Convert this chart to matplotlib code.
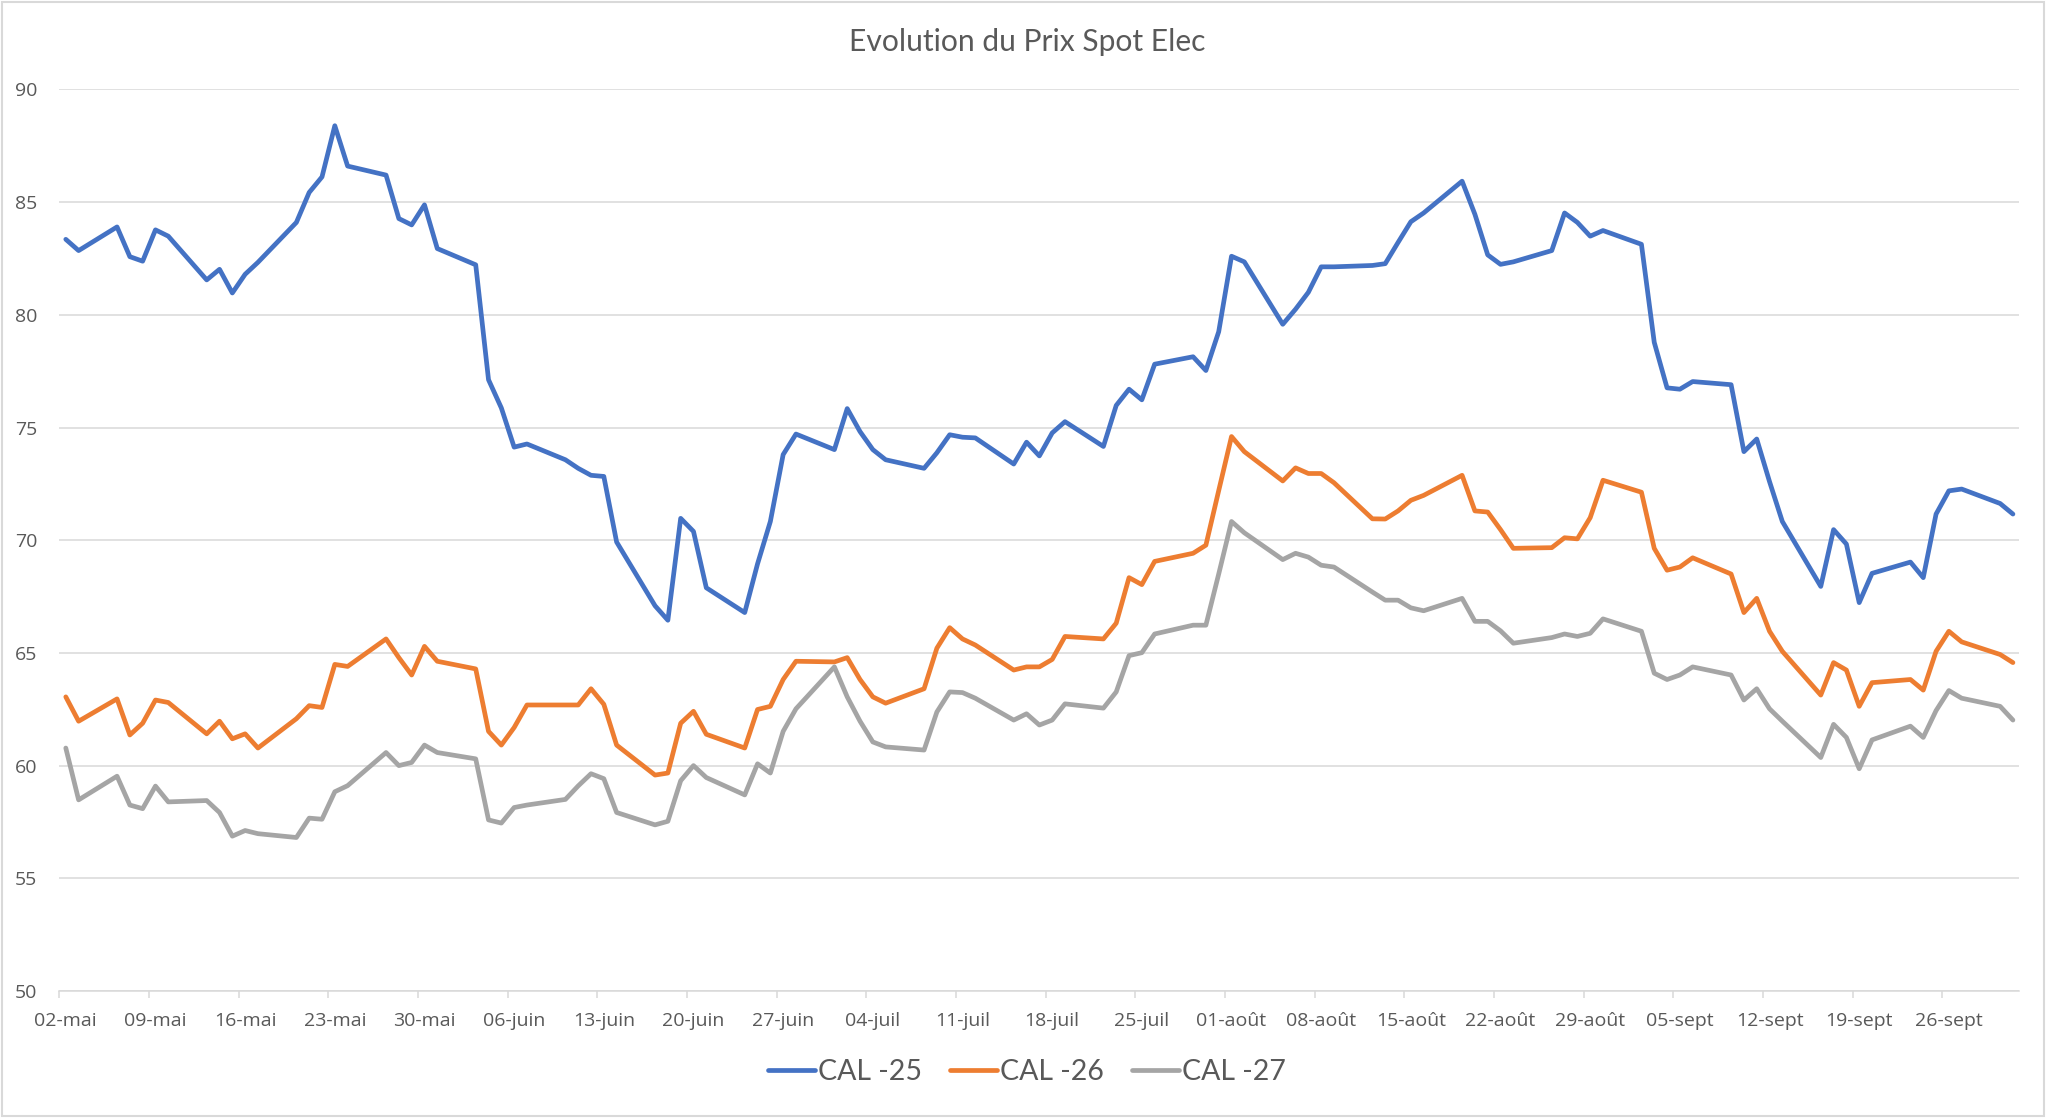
import numpy as np
import matplotlib
matplotlib.use("Agg")
import matplotlib.pyplot as plt
import matplotlib.dates as mdates
from matplotlib.patches import Rectangle

# business days, May 2 -> Oct 1 2024
dates = [
    "2024-05-02", "2024-05-03", "2024-05-06", "2024-05-07", "2024-05-08", "2024-05-09", "2024-05-10",
    "2024-05-13", "2024-05-14", "2024-05-15", "2024-05-16", "2024-05-17",
    "2024-05-20", "2024-05-21", "2024-05-22", "2024-05-23", "2024-05-24",
    "2024-05-27", "2024-05-28", "2024-05-29", "2024-05-30", "2024-05-31",
    "2024-06-03", "2024-06-04", "2024-06-05", "2024-06-06", "2024-06-07",
    "2024-06-10", "2024-06-11", "2024-06-12", "2024-06-13", "2024-06-14",
    "2024-06-17", "2024-06-18", "2024-06-19", "2024-06-20", "2024-06-21",
    "2024-06-24", "2024-06-25", "2024-06-26", "2024-06-27", "2024-06-28",
    "2024-07-01", "2024-07-02", "2024-07-03", "2024-07-04", "2024-07-05",
    "2024-07-08", "2024-07-09", "2024-07-10", "2024-07-11", "2024-07-12",
    "2024-07-15", "2024-07-16", "2024-07-17", "2024-07-18", "2024-07-19",
    "2024-07-22", "2024-07-23", "2024-07-24", "2024-07-25", "2024-07-26",
    "2024-07-29", "2024-07-30", "2024-07-31", "2024-08-01", "2024-08-02",
    "2024-08-05", "2024-08-06", "2024-08-07", "2024-08-08", "2024-08-09",
    "2024-08-12", "2024-08-13", "2024-08-14", "2024-08-15", "2024-08-16",
    "2024-08-19", "2024-08-20", "2024-08-21", "2024-08-22", "2024-08-23",
    "2024-08-26", "2024-08-27", "2024-08-28", "2024-08-29", "2024-08-30",
    "2024-09-02", "2024-09-03", "2024-09-04", "2024-09-05", "2024-09-06",
    "2024-09-09", "2024-09-10", "2024-09-11", "2024-09-12", "2024-09-13",
    "2024-09-16", "2024-09-17", "2024-09-18", "2024-09-19", "2024-09-20",
    "2024-09-23", "2024-09-24", "2024-09-25", "2024-09-26", "2024-09-27",
    "2024-09-30", "2024-10-01",
]

cal25 = [
    83.35, 82.85, 83.90, 82.58, 82.38, 83.77, 83.49,
    81.55, 82.02, 80.97, 81.80, 82.33,
    84.10, 85.43, 86.12, 88.39, 86.60,
    86.20, 84.27, 83.99, 84.88, 82.94,
    82.22, 77.12, 75.87, 74.13, 74.27,
    73.57, 73.19, 72.88, 72.83, 69.92,
    67.09, 66.45, 70.97, 70.39, 67.89,
    66.79, 68.95, 70.83, 73.80, 74.71,
    74.02, 75.84, 74.82, 74.02, 73.57,
    73.19, 73.88, 74.68, 74.57, 74.54,
    73.38, 74.35, 73.74, 74.76, 75.26,
    74.16, 75.98, 76.70, 76.23, 77.81,
    78.14, 77.53, 79.25, 82.60, 82.35,
    79.58, 80.25, 81.00, 82.13, 82.13,
    82.19, 82.27, 83.21, 84.13, 84.52,
    85.93, 84.46, 82.66, 82.24, 82.35,
    82.85, 84.52, 84.10, 83.49, 83.74,
    83.13, 78.78, 76.76, 76.70, 77.04,
    76.90, 73.93, 74.49, 72.60, 70.83,
    67.95, 70.47, 69.83, 67.23, 68.53,
    69.03, 68.34, 71.16, 72.19, 72.27,
    71.63, 71.16,
]

cal26 = [
    63.05, 61.97, 62.96, 61.36, 61.88, 62.91, 62.80,
    61.41, 61.97, 61.19, 61.41, 60.78,
    62.08, 62.66, 62.58, 64.49, 64.40,
    65.62, 64.79, 64.02, 65.29, 64.63,
    64.29, 61.52, 60.91, 61.69, 62.69,
    62.69, 62.69, 63.41, 62.72, 60.91,
    59.58, 59.67, 61.88, 62.41, 61.39,
    60.78, 62.49, 62.63, 63.82, 64.63,
    64.60, 64.79, 63.82, 63.05, 62.77,
    63.41, 65.21, 66.12, 65.62, 65.35,
    64.24, 64.38, 64.38, 64.71, 65.73,
    65.62, 66.32, 68.34, 68.03, 69.06,
    69.42, 69.78, 72.20, 74.60, 73.93,
    72.63, 73.21, 72.96, 72.96, 72.55,
    70.95, 70.94, 71.30, 71.77, 71.99,
    72.88, 71.30, 71.25, 70.47, 69.64,
    69.67, 70.11, 70.06, 71.00, 72.66,
    72.13, 69.64, 68.67, 68.81, 69.22,
    68.50, 66.79, 67.42, 65.96, 65.07,
    63.13, 64.57, 64.24, 62.63, 63.68,
    63.82, 63.35, 65.07, 65.96, 65.49,
    64.93, 64.57,
]

cal27 = [
    60.78, 58.48, 59.53, 58.25, 58.09, 59.09, 58.39,
    58.45, 57.92, 56.87, 57.12, 56.98,
    56.81, 57.67, 57.62, 58.84, 59.11,
    60.58, 60.00, 60.14, 60.91, 60.58,
    60.30, 57.59, 57.45, 58.14, 58.25,
    58.50, 59.10, 59.64, 59.42, 57.92,
    57.37, 57.53, 59.33, 60.00, 59.47,
    58.70, 60.08, 59.67, 61.52, 62.52,
    64.38, 63.05, 61.97, 61.05, 60.83,
    60.69, 62.38, 63.27, 63.24, 62.99,
    62.02, 62.30, 61.80, 62.02, 62.74,
    62.55, 63.27, 64.88, 65.01, 65.84,
    66.23, 66.23, 68.50, 70.83, 70.33,
    69.14, 69.42, 69.25, 68.89, 68.81,
    67.70, 67.34, 67.34, 67.00, 66.87,
    67.42, 66.40, 66.40, 65.98, 65.43,
    65.68, 65.84, 65.73, 65.87, 66.51,
    65.96, 64.10, 63.82, 64.02, 64.38,
    64.02, 62.91, 63.41, 62.52, 61.97,
    60.36, 61.83, 61.25, 59.86, 61.14,
    61.75, 61.25, 62.44, 63.33, 62.99,
    62.63, 62.02,
]

series_names = ["CAL -25", "CAL -26", "CAL -27"]
colors = ["#4472C4", "#ED7D31", "#A5A5A5"]

tick_labels = ["02-mai", "09-mai", "16-mai", "23-mai", "30-mai", "06-juin", "13-juin",
               "20-juin", "27-juin", "04-juil", "11-juil", "18-juil", "25-juil",
               "01-août", "08-août", "15-août", "22-août", "29-août", "05-sept",
               "12-sept", "19-sept", "26-sept"]

x = mdates.date2num(np.array(dates, dtype="datetime64[D]"))

fig, ax = plt.subplots(figsize=(20.48, 11.18), dpi=100)
fig.subplots_adjust(left=0.029, right=0.986, top=0.920, bottom=0.1136)

for vals, name, c in zip([cal25, cal26, cal27], series_names, colors):
    ax.plot(x, vals, color=c, lw=3.4, label=name, solid_joinstyle="round", solid_capstyle="round")

ax.set_ylim(50, 90)
ax.set_yticks(np.arange(50, 91, 5))
ax.set_xlim(x[0] - 0.5, x[-1] + 0.5)
ax.grid(axis="y", color="#D9D9D9", lw=1.1)
ax.set_axisbelow(True)

# tick marks on day boundaries, labels on the day itself
major = np.arange(x[0] - 0.5, x[-1], 7)
ax.set_xticks(major)
ax.set_xticklabels([])
ax.set_xticks(x[0] + 7 * np.arange(len(tick_labels)), minor=True)
ax.set_xticklabels(tick_labels, minor=True)
ax.tick_params(axis="x", which="major", length=5, width=1.1, color="#D9D9D9")
ax.tick_params(axis="x", which="minor", length=0, pad=15, labelsize=14, labelcolor="#595959")
ax.tick_params(axis="y", length=0, pad=16, labelsize=14, labelcolor="#595959")
for lab in ax.get_xticklabels(minor=True) + ax.get_yticklabels():
    lab.set_fontfamily("Open Sans")

for s in ["top", "right", "left"]:
    ax.spines[s].set_visible(False)
ax.spines["bottom"].set_color("#D9D9D9")
ax.spines["bottom"].set_linewidth(1.1)

fig.suptitle("Evolution du Prix Spot Elec", x=0.5015, y=0.975, fontsize=21.6,
             color="#595959", family="Lato")

fig.legend(loc="center", bbox_to_anchor=(0.5015, 0.041), ncol=3, frameon=False,
           prop={"family": "Lato", "size": 20.5}, labelcolor="#595959",
           handlelength=1.65, handletextpad=0.1, columnspacing=1.0)

fig.patches.append(Rectangle((0.001, 0.002), 0.997, 0.996, transform=fig.transFigure,
                             fill=False, ec="#D9D9D9", lw=1.5))

fig.savefig("out.png", dpi=100, facecolor="white")
